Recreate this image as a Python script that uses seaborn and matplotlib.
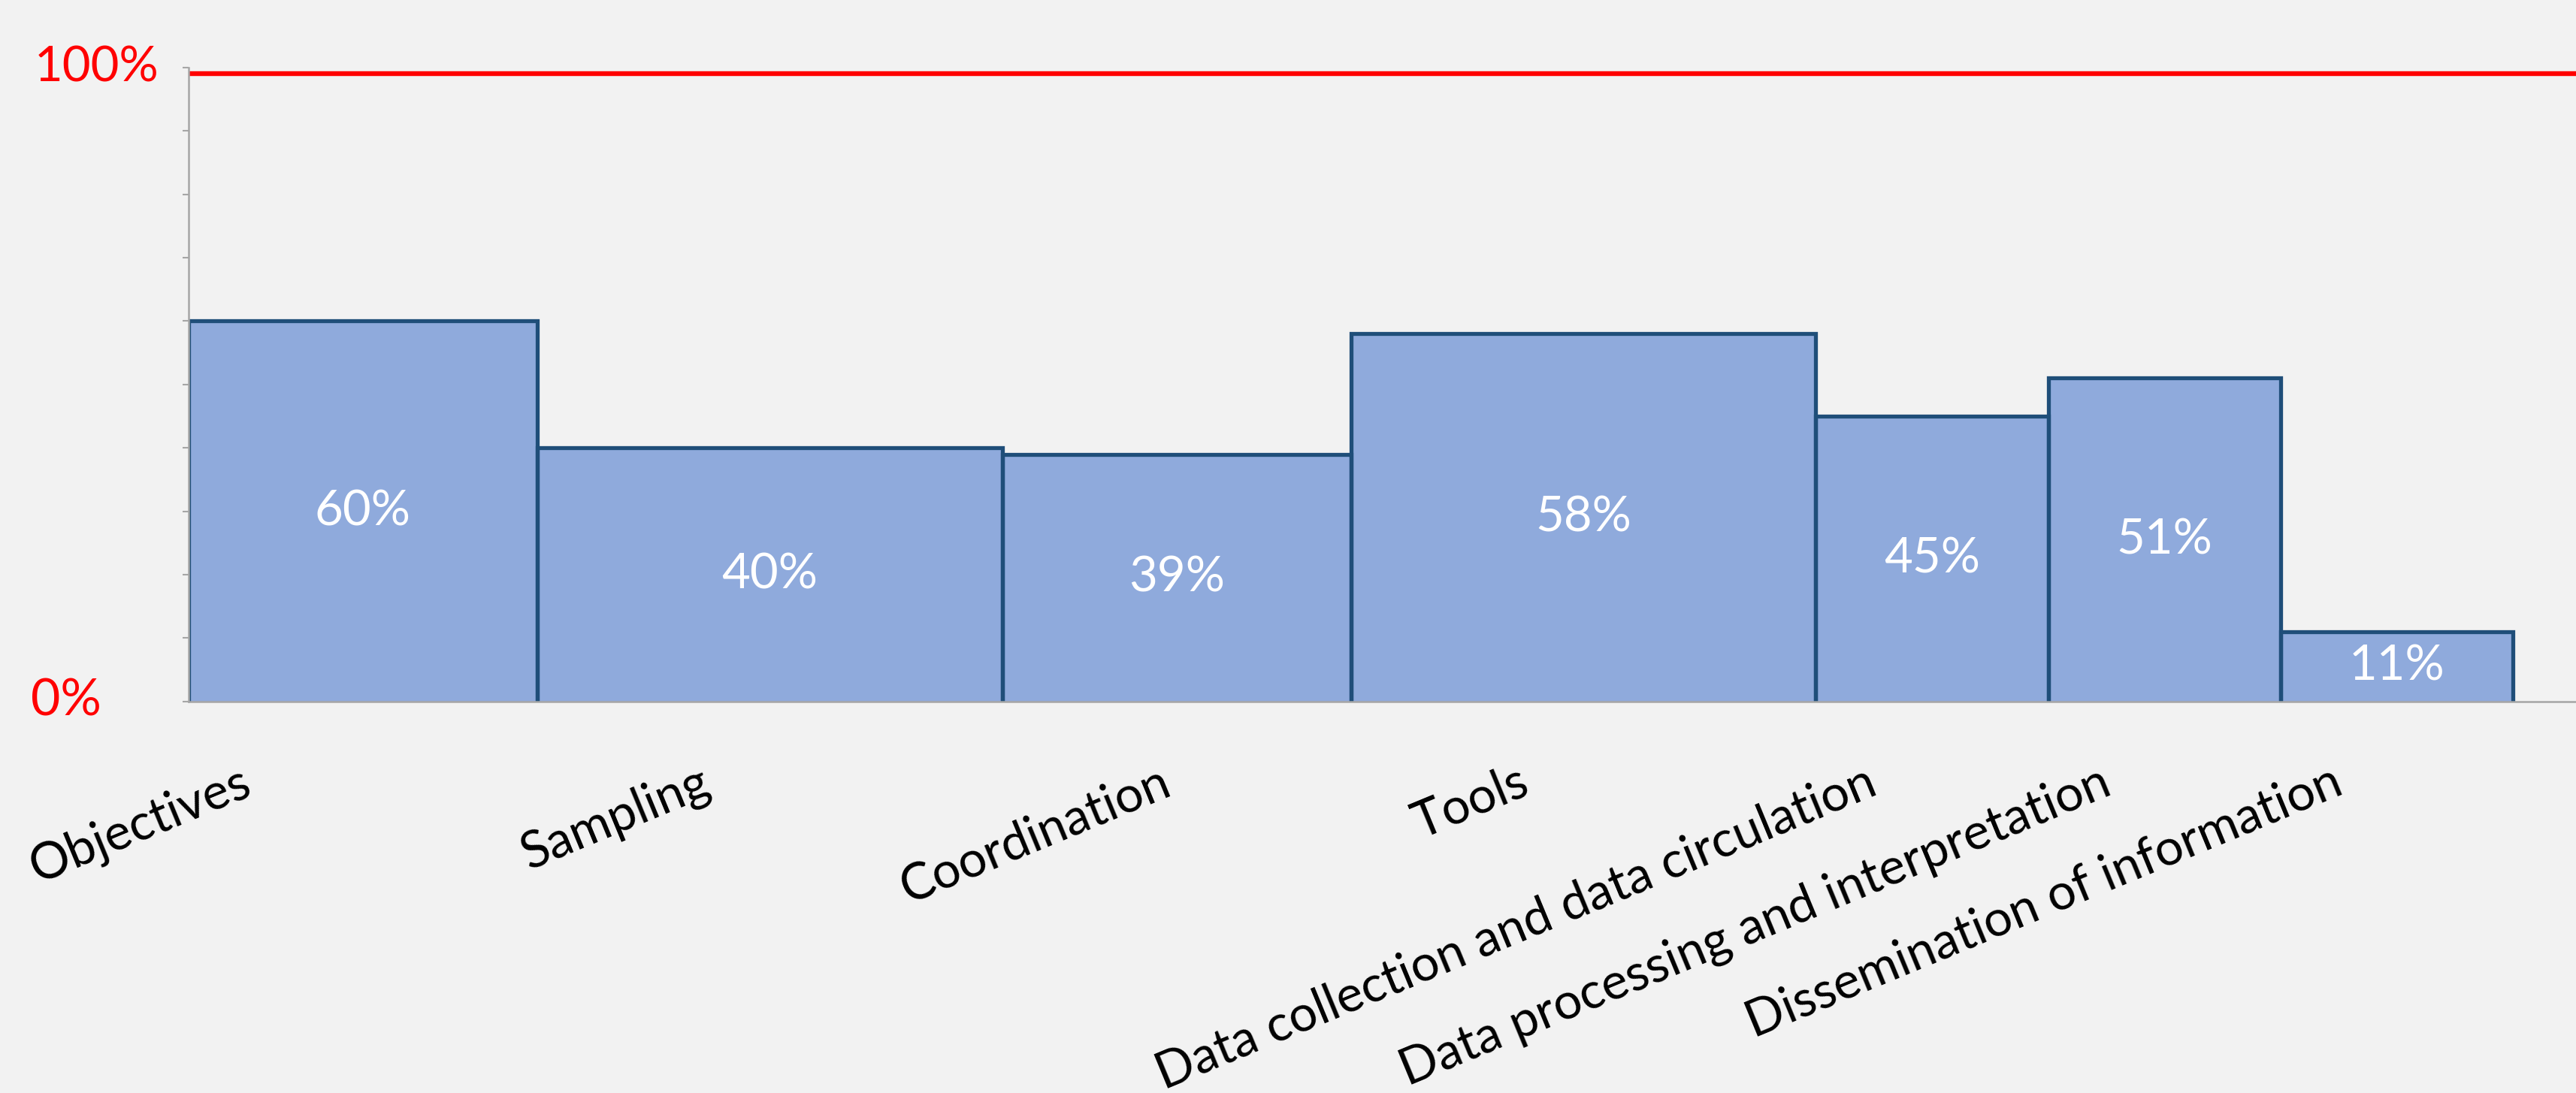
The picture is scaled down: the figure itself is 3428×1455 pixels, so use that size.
"""
Variable-width bar chart: share of items per component, with a 100% reference line.
"""

import numpy as np
import matplotlib.pyplot as plt
import matplotlib.transforms as mtransforms
import seaborn as sns

# --- data ---------------------------------------------------------------
categories = [
    "Objectives",
    "Sampling",
    "Coordination",
    "Tools",
    "Data collection and data circulation",
    "Data processing and interpretation",
    "Dissemination of information",
]
shares = [0.60, 0.40, 0.39, 0.58, 0.45, 0.51, 0.11]
weights = [1.5, 2.0, 1.5, 2.0, 1.0, 1.0, 1.0]
target_level = 0.99
y_ticks = [i / 10 for i in range(11)]

# --- style --------------------------------------------------------------
bg = "#f2f2f2"
fill = "#8faadc"
edge = "#1f4e79"
axis_grey = "#a6a6a6"

# horizontal nudge of each category label's right end (x units, layout only)
label_shift = [-0.53, -0.305, -0.075, -0.285, -0.29, -0.28, -0.285]

sns.set_theme(style="white")
plt.rcParams["font.family"] = ["Lato", "DejaVu Sans"]

fig = plt.figure(figsize=(34.28, 14.55), dpi=100, facecolor=bg)
ax = fig.add_axes([0.0732, 0.3582, 0.9268, 0.58])
ax.set_facecolor(bg)

lefts = np.concatenate([[0], np.cumsum(weights)[:-1]])
rights = lefts + np.array(weights)
centers = lefts + np.array(weights) / 2

# filled bars, no outline
ax.bar(lefts, shares, width=weights, align="edge", color=fill, linewidth=0, zorder=2)

# outline: both sides and the top, no bottom edge
for l, r, h in zip(lefts, rights, shares):
    ax.plot([l, l, r, r], [0, h, h, 0], color=edge, lw=3.8,
            solid_joinstyle="miter", zorder=3)

# value labels in the middle of each bar
for c, h in zip(centers, shares):
    ax.text(c, h / 2, f"{h:.0%}", ha="center", va="center",
            color="white", fontsize=47, zorder=4)

# red reference line
ax.axhline(target_level, color="red", lw=4.6, zorder=3)

ax.set_xlim(0, 10.27)
ax.set_ylim(0, 1.0)
ax.set_yticks(y_ticks)
ax.set_yticklabels([])
ax.set_xticks([])
ax.tick_params(axis="y", direction="out", length=6, width=1.5, color=axis_grey, left=True)

sns.despine(ax=ax, top=True, right=True)
for side in ("left", "bottom"):
    ax.spines[side].set_color(axis_grey)
    ax.spines[side].set_linewidth(1.8)
    ax.spines[side].set_zorder(5)

# category labels, rotated, hanging below the axis
for c, s, name in zip(centers, label_shift, categories):
    ax.text(c + s, -0.09, name, rotation=22.5, rotation_mode="anchor",
            ha="right", va="top", fontsize=48, color="black", clip_on=False)

# red 0% / 100% markers at the left
blend = mtransforms.blended_transform_factory(fig.transFigure, ax.transData)
ax.text(129 / 3428, 1.0, "100%", transform=blend, ha="center", va="center",
        color="red", fontsize=47)
ax.text(88 / 3428, 0.0, "0%", transform=blend, ha="center", va="center",
        color="red", fontsize=49)

fig.savefig("out.png", dpi=100, facecolor=bg)
